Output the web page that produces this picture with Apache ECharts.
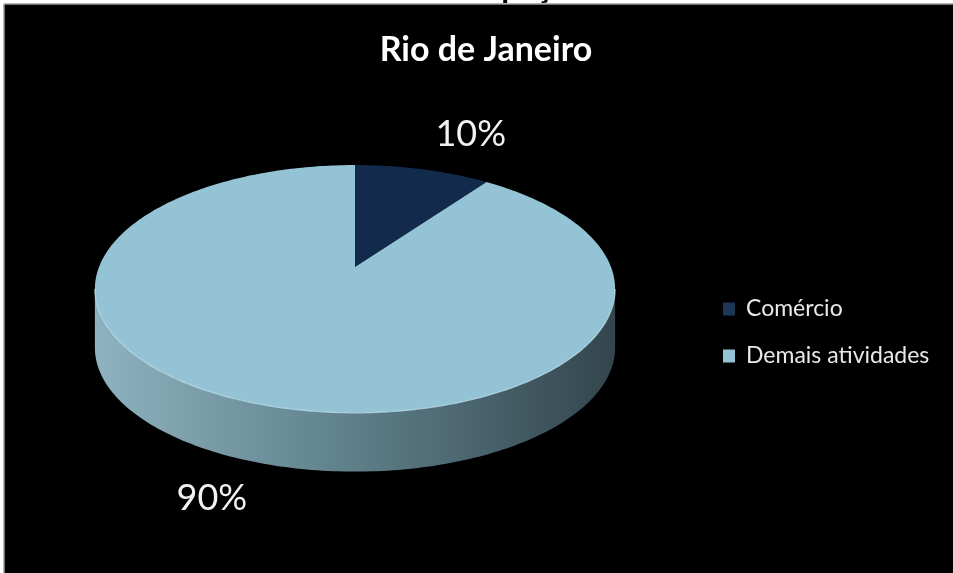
<!DOCTYPE html>
<html>
<head>
<meta charset="utf-8">
<script src="https://cdn.jsdelivr.net/npm/echarts@6/dist/echarts.min.js"></script>
<style>
  html, body { margin: 0; padding: 0; background: #ffffff; }
  #chart { width: 953px; height: 573px; }
</style>
</head>
<body>
<div id="chart"></div>
<script>
// ---- data ----
const categories = ['Comércio', 'Demais atividades'];
const values = [10, 90];
const chartTitle = 'Rio de Janeiro';
const cutTitle = 'Ocupação';

// ---- styles ----
const TOP_COLORS = ['#122a4b', '#93c3d5'];
const LEGEND_COLORS = ['#1c3656', '#93c3d5'];
const K = 0.177;        // perspective factor
const DEPTH = 0.49;     // side depth in y units
const FONT = 'Lato, "Open Sans", sans-serif';

const total = values.reduce((a, b) => a + b, 0);
let acc = 0;
const slices = values.map(v => { const s = acc; acc += v; return [s, acc, total]; });

function project(phi, r) {
  const u = r * Math.sin(phi), v = r * Math.cos(phi);
  const d = 1 + K * v;
  return [u / d, v / d];
}

function makeRender(idx) {
  return function (params, api) {
    const s = api.value(0), e = api.value(1), t = api.value(2);
    const a0 = 2 * Math.PI * s / t, a1 = 2 * Math.PI * e / t;
    const steps = Math.max(2, Math.ceil((a1 - a0) / (Math.PI / 180)));
    const children = [];
    // side rim (front only)
    const f0 = Math.acos(-K), f1 = 2 * Math.PI - Math.acos(-K);
    const b0 = Math.max(a0, f0), b1 = Math.min(a1, f1);
    if (b1 > b0) {
      const n = Math.ceil((b1 - b0) / (Math.PI / 180));
      const topPts = [], botPts = [];
      for (let i = 0; i <= n; i++) {
        const p = project(b0 + (b1 - b0) * i / n, 1);
        topPts.push(api.coord(p));
        botPts.push(api.coord([p[0], p[1] - DEPTH]));
      }
      children.push({
        type: 'polygon',
        shape: { points: topPts.concat(botPts.reverse()) },
        style: {
          fill: new echarts.graphic.LinearGradient(0, 0, 1, 0, [
            { offset: 0, color: '#8fb2c0' },
            { offset: 0.45, color: '#62848f' },
            { offset: 1, color: '#33454d' }
          ])
        }
      });
    }
    // top face
    const pts = [api.coord([0, 0])];
    for (let i = 0; i <= steps; i++) {
      pts.push(api.coord(project(a0 + (a1 - a0) * i / steps, 1)));
    }
    children.push({ type: 'polygon', shape: { points: pts }, style: { fill: TOP_COLORS[idx] } });
    // highlight along front edge
    if (b1 > b0) {
      const n = Math.ceil((b1 - b0) / (Math.PI / 180));
      const hl = [];
      for (let i = 0; i <= n; i++) hl.push(api.coord(project(b0 + (b1 - b0) * i / n, 1)));
      children.push({ type: 'polyline', shape: { points: hl }, style: { stroke: 'rgba(200,235,248,0.7)', lineWidth: 1.2, fill: null } });
    }
    // label
    const m = (a0 + a1) / 2;
    let p = project(m, 1);
    if (Math.cos(m) < 0) p = [p[0], p[1] - DEPTH];
    const c = api.coord(p);
    const pct = Math.round(100 * (e - s) / t) + '%';
    children.push({
      type: 'text',
      style: {
        x: c[0] + Math.sign(Math.sin(m)) * 48,
        y: c[1] - Math.sign(Math.cos(m)) * 35,
        text: pct,
        fill: '#f2f2f2',
        font: '36px ' + FONT,
        align: 'center',
        verticalAlign: 'middle'
      }
    });
    return { type: 'group', children: children };
  };
}

const chart = echarts.init(document.getElementById('chart'), null, { renderer: 'canvas' });
chart.setOption({
  backgroundColor: '#ffffff',
  animation: false,
  graphic: [
    { type: 'text', left: 442, top: -28, z: 0, style: { text: cutTitle, font: 'bold 32px ' + FONT, fill: '#000' } },
    { type: 'rect', z: 1, shape: { x: 4, y: 4, width: 960, height: 580 }, style: { fill: '#000' } },
    { type: 'line', z: 1, shape: { x1: 4, y1: 4, x2: 4, y2: 573 }, style: { stroke: '#9a9a9a', lineWidth: 1.5 } },
    { type: 'line', z: 1, shape: { x1: 4, y1: 4, x2: 953, y2: 4 }, style: { stroke: '#9a9a9a', lineWidth: 1.5 } },
    { type: 'text', z: 2, style: { x: 486, y: 50, text: chartTitle, font: 'bold 34px ' + FONT, fill: '#ffffff', align: 'center', verticalAlign: 'middle' } }
  ],
  grid: { left: 99, width: 512, top: 147, height: 360 },
  xAxis: { type: 'value', min: -1, max: 1, show: false },
  yAxis: { type: 'value', min: -2, max: 1, show: false },
  legend: {
    orient: 'vertical',
    left: 718,
    top: 291,
    itemWidth: 12,
    itemHeight: 13,
    itemGap: 21,
    icon: 'rect',
    data: categories,
    textStyle: { color: '#e8e8e8', fontFamily: FONT, fontSize: 23, lineHeight: 26, padding: [0, 0, 0, 6] }
  },
  series: categories.map((name, i) => ({
    type: 'custom',
    name: name,
    coordinateSystem: 'cartesian2d',
    clip: false,
    itemStyle: { color: LEGEND_COLORS[i] },
    renderItem: makeRender(i),
    encode: { x: 0, y: 1 },
    data: [slices[i]],
    z: 5 + i
  }))
});
</script>
</body>
</html>
